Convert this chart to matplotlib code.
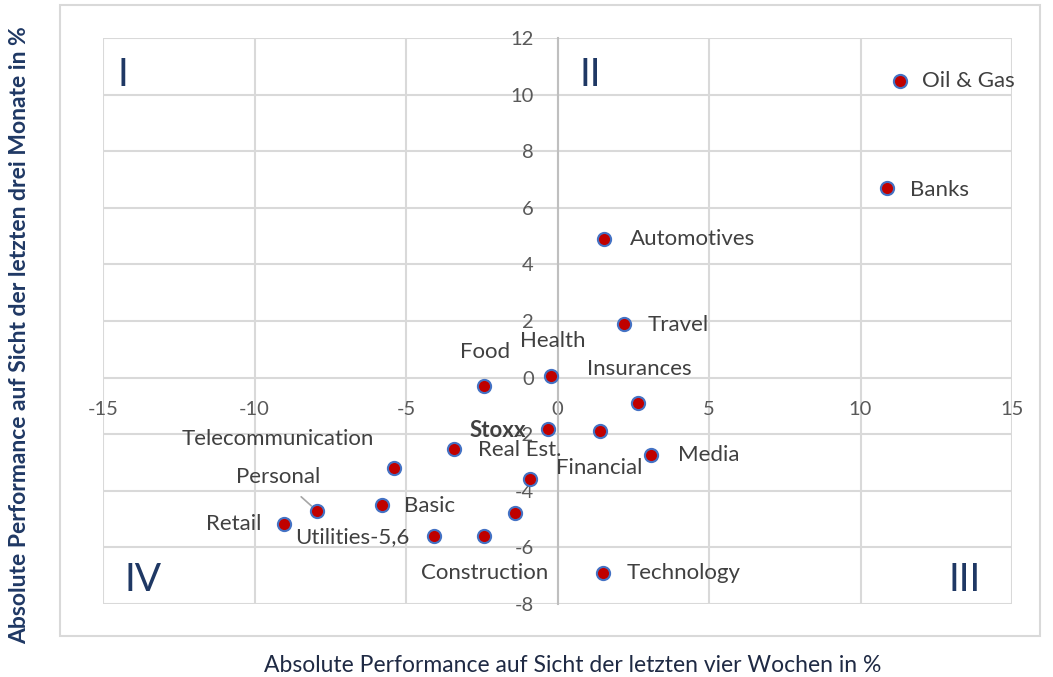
'''
Sector performance quadrant chart: four-week vs. three-month absolute
performance of the Stoxx sectors.
'''
import matplotlib.pyplot as plt
from matplotlib.patches import Rectangle

plt.rcParams['font.family'] = ['Lato', 'DejaVu Sans']
plt.rcParams['axes.unicode_minus'] = False

# data
sectors = ['Oil & Gas', 'Banks', 'Automotives', 'Travel', 'Health', 'Food',
           'Insurances', 'Stoxx', 'Financial', 'Media', 'Real Est.',
           'Telecommunication', '', 'Basic', 'Personal', 'Retail', '',
           'Utilities-5,6', 'Construction', 'Technology']
perf_4w = [11.29, 10.86, 1.55, 2.18, -0.23, -2.44, 2.67, -0.33, 1.39, 3.07,
           -3.40, -5.38, -0.92, -5.78, -7.95, -9.01, -1.39, -4.09, -2.41, 1.49]
perf_3m = [10.49, 6.71, 4.88, 1.91, 0.04, -0.28, -0.88, -1.80, -1.87, -2.72,
           -2.51, -3.18, -3.60, -4.49, -4.70, -5.19, -4.77, -5.58, -5.58, -6.89]
x_ticks = [-15, -10, -5, 0, 5, 10, 15]
y_ticks = [-8, -6, -4, -2, 0, 2, 4, 6, 8, 10, 12]
quadrants = ['I', 'II', 'III', 'IV']

# label placement, offset in pixels from the point
label_pos = {
    'Oil & Gas': (22, 0, 'left'), 'Banks': (23, -2, 'left'),
    'Automotives': (25, 0, 'left'), 'Travel': (24, -1, 'left'),
    'Health': (2, 35, 'center'), 'Food': (1, 34, 'center'),
    'Insurances': (1, 34, 'center'), 'Stoxx': (-21, -2, 'right'),
    'Financial': (0, -37, 'center'), 'Media': (27, 0, 'left'),
    'Real Est.': (24, -1, 'left'), 'Telecommunication': (-117, 29, 'center'),
    'Basic': (22, -1, 'left'), 'Personal': (-38, 34, 'center'),
    'Retail': (-23, 0, 'right'), 'Utilities-5,6': (-24, -2, 'right'),
    'Construction': (0, -37, 'center'), 'Technology': (24, 0, 'left'),
}
quad_pos = {'I': (0.022, 0.935), 'II': (0.536, 0.935),
            'III': (0.948, 0.042), 'IV': (0.044, 0.042)}

grid_c = '#d9d9d9'
navy = '#1f3864'

fig = plt.figure(figsize=(10.53, 6.77), dpi=100)
W, H = 1053, 677
ax = fig.add_axes([103/W, 1 - 604/H, 909/W, 566/H])

# outer chart frame
fig.patches.append(Rectangle((60/W, 1 - 636/H), 980/W, 631/H,
                             transform=fig.transFigure, fill=False,
                             ec=grid_c, lw=1.5))

ax.set_xlim(-15, 15)
ax.set_ylim(-8, 12)
ax.set_xticks(x_ticks)
ax.set_yticks(y_ticks)
ax.grid(color=grid_c, lw=1.5)
ax.set_axisbelow(True)
for s in ['top', 'right', 'bottom']:
    ax.spines[s].set_visible(False)
ax.spines['left'].set_position(('data', 0))
ax.spines['left'].set_color('#bfbfbf')
ax.spines['left'].set_linewidth(1.5)
ax.spines['left'].set_zorder(1.5)
ax.spines['bottom'].set_position(('data', 0))
ax.tick_params(length=0, labelsize=14.5, labelcolor='#595959')
ax.tick_params(axis='x', pad=17)
ax.tick_params(axis='y', pad=17)

ax.scatter(perf_4w, perf_3m, s=90, c='#c00000', edgecolors='#4472c4',
           linewidths=1.5, zorder=3)

for name, x, y in zip(sectors, perf_4w, perf_3m):
    if not name:
        continue
    dx, dy, ha = label_pos[name]
    kw = {}
    if name == 'Personal':
        kw['arrowprops'] = dict(arrowstyle='-', color='#a6a6a6', lw=1.2,
                                shrinkA=8, shrinkB=5)
    ax.annotate(name, (x, y), xytext=(dx, dy), textcoords='offset pixels',
                ha=ha, va='center', fontsize=16, color='#404040',
                fontweight='bold' if name == 'Stoxx' else 'normal',
                zorder=4, **kw)

for q in quadrants:
    qx, qy = quad_pos[q]
    ax.text(qx, qy, q, transform=ax.transAxes, ha='center', va='center',
            fontsize=28, color=navy)

fig.text(20/W, 1 - 335/H, 'Absolute Performance auf Sicht der letzten drei Monate in %',
         rotation=90, ha='center', va='center', fontsize=16.5, color=navy,
         fontweight='bold')
fig.text(573/W, 1 - 665/H, 'Absolute Performance auf Sicht der letzten vier Wochen in %',
         ha='center', va='center', fontsize=16.5, color='#1f2a44')

plt.savefig('out.png', dpi=100)
